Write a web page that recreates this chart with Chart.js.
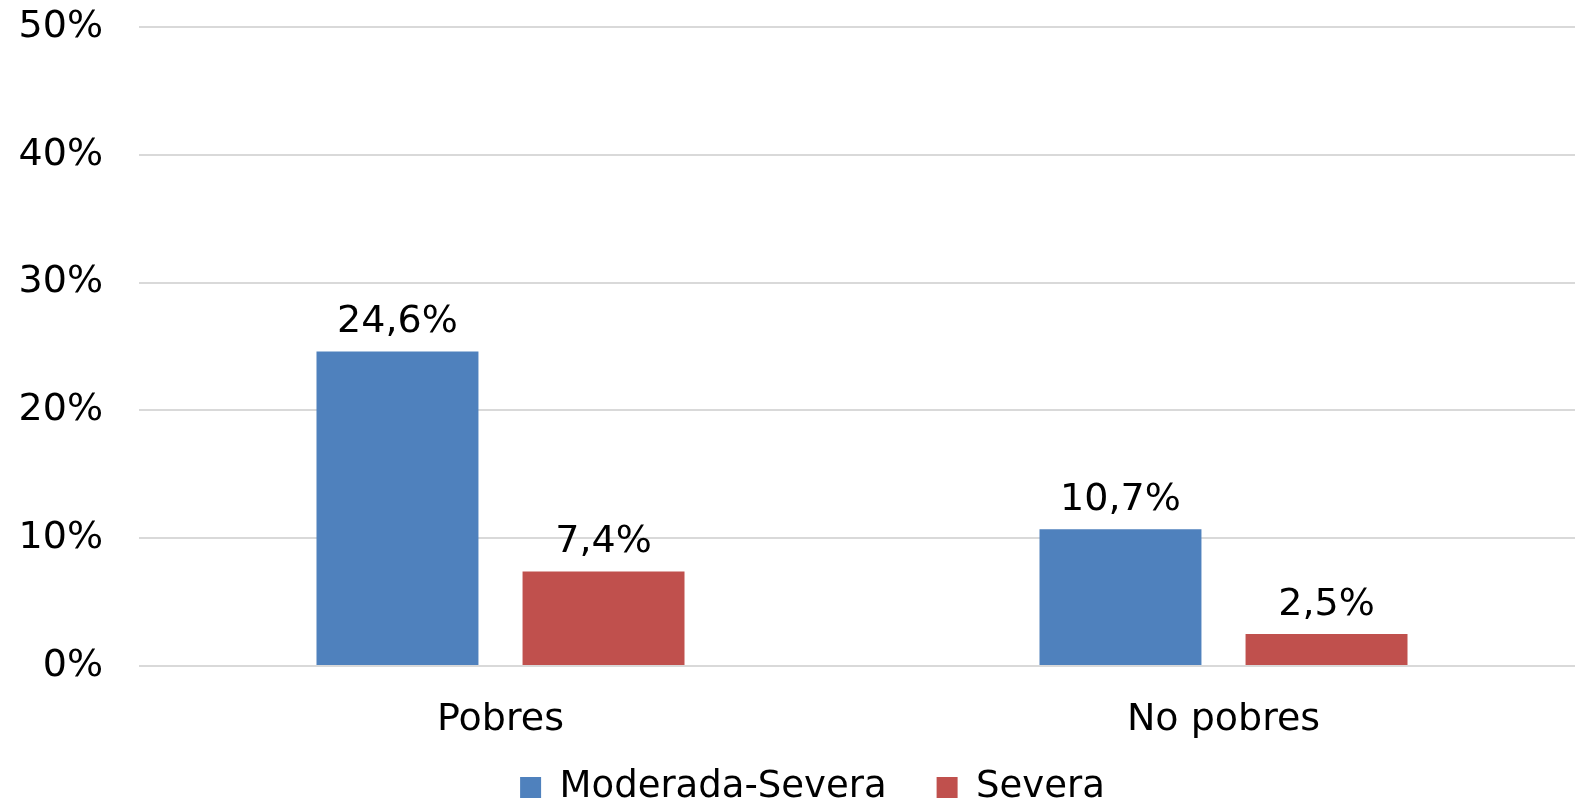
<!DOCTYPE html>
<html>
<head>
<meta charset="utf-8">
<script src="https://cdn.jsdelivr.net/npm/chart.js@4/dist/chart.umd.min.js"></script>
<style>
    html, body { margin: 0; padding: 0; background: #fff; }
    #wrap { width: 1575px; height: 803px; position: relative; }
</style>
</head>
<body>
<div id="wrap"><canvas id="chart"></canvas></div>
<script>
const categories = ["Pobres", "No pobres"];
const seriesNames = ["Moderada-Severa", "Severa"];
const moderadaSevera = [24.6, 10.7];
const severa = [7.4, 2.5];
const yTicks = [0, 10, 20, 30, 40, 50];

const FONT = { family: "'DejaVu Sans'", size: 38 };

function pct(v) {
    return v.toFixed(1).replace(".", ",") + "%";
}

// etiquetas de valor encima de cada barra
const valueLabels = {
    id: "valueLabels",
    afterDatasetsDraw(chart) {
        const ctx = chart.ctx;
        ctx.save();
        ctx.font = "38px 'DejaVu Sans'";
        ctx.fillStyle = "#000";
        ctx.textAlign = "center";
        ctx.textBaseline = "bottom";
        chart.data.datasets.forEach(function (ds, i) {
            chart.getDatasetMeta(i).data.forEach(function (bar, j) {
                ctx.fillText(pct(ds.data[j]), bar.x, bar.y - 10);
            });
        });
        ctx.restore();
    }
};

// la leyenda usa padding grande entre items pero ocupa poco alto;
// el eje x se estira un poco a la derecha como en el original
const layoutTweaks = {
    id: "layoutTweaks",
    afterInit(chart) {
        const lg = chart.legend;
        if (lg && !lg._fixed) {
            const fit = lg.fit;
            lg.fit = function () {
                fit.call(this);
                this.height = 64;
            };
            lg._fixed = true;
        }
    },
    afterLayout(chart) {
        const lg = chart.legend;
        lg.top = chart.height - 84;
        lg.bottom = chart.height;
        lg.left += 25;
        lg.right += 25;
        const xs = chart.scales.x;
        xs.right += 10;
        xs.width += 10;
        xs.configure();
    }
};

document.addEventListener("DOMContentLoaded", function () {
    const chartElement = document.getElementById("chart").getContext("2d");

    const data = {
        labels: categories,
        datasets: [
            {
                label: seriesNames[0],
                data: moderadaSevera,
                backgroundColor: "#4F81BD",
                categoryPercentage: 0.57,
                barPercentage: 0.786,
            },
            {
                label: seriesNames[1],
                data: severa,
                backgroundColor: "#C0504D",
                categoryPercentage: 0.57,
                barPercentage: 0.786,
            },
        ],
    };

    const options = {
        responsive: true,
        maintainAspectRatio: false,
        animation: false,
        layout: { padding: { top: 27, right: 0, left: 0, bottom: 0 } },
        plugins: {
            tooltip: { enabled: false },
            legend: {
                position: "bottom",
                labels: {
                    color: "#000",
                    font: { family: "'DejaVu Sans'", size: 37 },
                    boxWidth: 21,
                    boxHeight: 21,
                    padding: 50,
                },
            },
        },
        scales: {
            x: {
                grid: { display: false },
                border: { display: false },
                afterFit: function (axis) {
                    axis.height = 73;
                },
                ticks: {
                    color: "#000",
                    font: FONT,
                    padding: 23,
                },
            },
            y: {
                min: 0,
                max: 50,
                afterBuildTicks: function (axis) {
                    axis.ticks = yTicks.map(function (v) { return { value: v }; });
                },
                afterFit: function (axis) {
                    axis.width = 139;
                    axis.paddingTop = 0;
                    axis.paddingBottom = 0;
                },
                grid: { color: "#d9d9d9", lineWidth: 2, drawTicks: false },
                border: { display: false },
                ticks: {
                    color: "#000",
                    font: FONT,
                    padding: 36,
                    callback: function (v) { return v + "%"; },
                },
            },
        },
    };

    new Chart(chartElement, {
        type: "bar",
        data: data,
        options: options,
        plugins: [valueLabels, layoutTweaks],
    });
});
</script>
</body>
</html>
